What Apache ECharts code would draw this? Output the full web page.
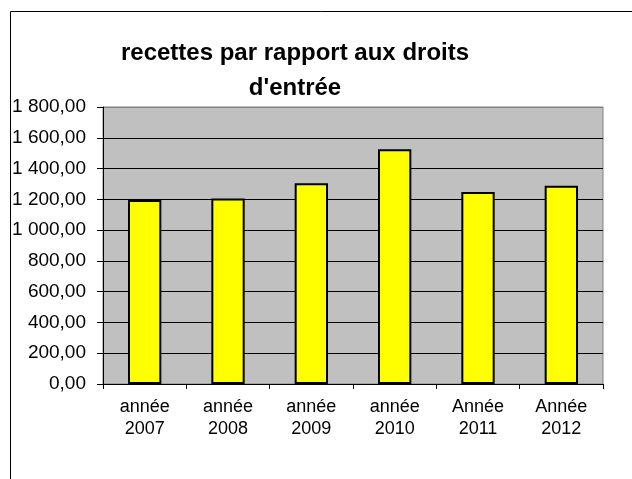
<!DOCTYPE html>
<html>
<head>
<meta charset="utf-8">
<script src="https://cdn.jsdelivr.net/npm/echarts@6/dist/echarts.min.js"></script>
<style>
  html, body { margin: 0; padding: 0; background: #fff; }
  #chart { width: 632px; height: 479px; }
</style>
</head>
<body>
<div id="chart"></div>
<script>
// values
var categories = ['année\n2007', 'année\n2008', 'année\n2009', 'année\n2010', 'Année\n2011', 'Année\n2012'];
var recettes = [1195, 1206, 1304, 1525, 1247, 1288];
var yTicks = { min: 0, max: 1800, interval: 200 };

var font = '"Liberation Sans", Arial, sans-serif';

// 1 800,00 style
function frNumber(v) {
    var s = v.toFixed(2).replace('.', ',');
    var parts = s.split(',');
    parts[0] = parts[0].replace(/\B(?=(\d{3})+(?!\d))/g, ' ');
    return parts.join(',');
}

// top gridline sits on the grey plot border
var splitColors = [];
for (var i = 0; i < (yTicks.max - yTicks.min) / yTicks.interval; i++) splitColors.push('#000');
splitColors.push('#808080');

var chart = echarts.init(document.getElementById('chart'));
var option = {
    backgroundColor: '#fff',
    animation: false,
    title: {
        text: "recettes par rapport aux droits\nd'entrée",
        left: 290,
        top: 31,
        textAlign: 'center',
        textStyle: {
            fontFamily: font,
            fontSize: 24,
            fontWeight: 'bold',
            color: '#000',
            lineHeight: 35
        }
    },
    graphic: [{
        type: 'rect',
        shape: { x: 10.5, y: 11.5, width: 800, height: 600 },
        style: { fill: 'none', stroke: '#000', lineWidth: 1 },
        silent: true
    }],
    grid: {
        left: 103,
        top: 107,
        width: 500,
        height: 277,
        show: true,
        backgroundColor: '#c0c0c0',
        borderColor: '#808080',
        borderWidth: 1
    },
    xAxis: {
        type: 'category',
        data: categories,
        axisLine: { show: true, lineStyle: { color: '#000', width: 1 } },
        axisTick: { show: true, alignWithLabel: false, length: 5, lineStyle: { color: '#000' } },
        axisLabel: {
            margin: 12,
            fontFamily: font,
            fontSize: 18,
            lineHeight: 22,
            color: '#000',
            interval: 0
        },
        splitLine: { show: false }
    },
    yAxis: {
        type: 'value',
        min: yTicks.min,
        max: yTicks.max,
        interval: yTicks.interval,
        axisLine: { show: true, lineStyle: { color: '#000', width: 1 } },
        axisTick: { show: true, length: 6, lineStyle: { color: '#000' } },
        axisLabel: {
            margin: 17,
            fontFamily: font,
            fontSize: 19,
            color: '#000',
            formatter: frNumber
        },
        splitLine: { show: true, lineStyle: { color: splitColors, width: 1 } }
    },
    series: [{
        type: 'bar',
        data: recettes,
        barCategoryGap: '60%',
        itemStyle: {
            color: '#ffff00',
            borderColor: '#000',
            borderWidth: 2
        }
    }]
};
chart.setOption(option);
</script>
</body>
</html>
